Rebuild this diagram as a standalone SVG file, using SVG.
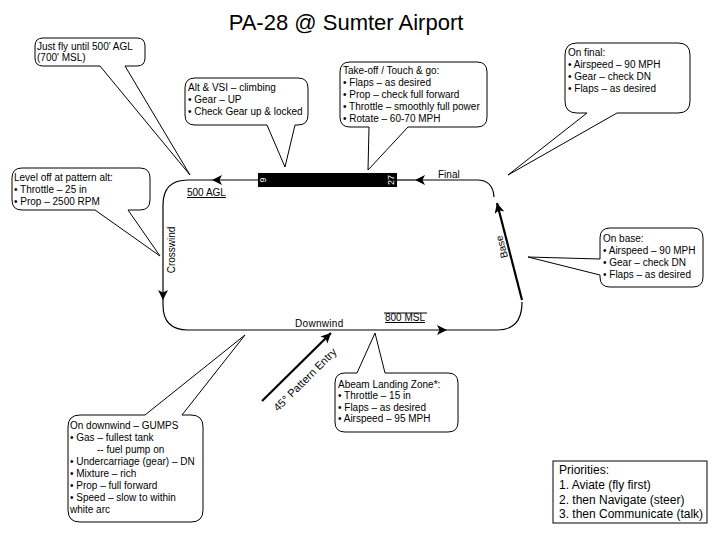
<svg xmlns="http://www.w3.org/2000/svg" width="720" height="540" viewBox="0 0 720 540">
<style>
text{font-family:"Liberation Sans",Arial,sans-serif;fill:#000}
.t{font-size:10px}
.c{fill:#fff;stroke:#000;stroke-width:1}
.ln{fill:none;stroke:#000;stroke-width:1.2}
.thick{fill:none;stroke:#000;stroke-width:2.2}
</style>
<defs>
<marker id="arr" markerUnits="userSpaceOnUse" markerWidth="12" markerHeight="12" refX="10" refY="5" orient="auto">
<path d="M0,0 L10,5 L0,10 L2.5,5 z" fill="#000"/>
</marker>
</defs>
<rect width="720" height="540" fill="#fff"/>
<text x="346" y="30" font-size="22" text-anchor="middle">PA-28 @ Sumter Airport</text>

<g id="connectors">
<path class="ln" d="M258,180 H212" marker-end="url(#arr)"/>
<path class="ln" d="M212,180 H188 Q163,180 163,205 V300" marker-end="url(#arr)"/>
<path class="ln" d="M163,300 V305 Q163,330 188,330 H447" marker-end="url(#arr)"/>
<path class="ln" d="M447,330 H497 Q522,330 522,302"/>
<path class="thick" d="M522,300 L497,203" marker-end="url(#arr)"/>
<path class="ln" d="M494,197 Q493,180 477,180 H415" marker-end="url(#arr)"/>
<path class="ln" d="M415,180 H397"/>
<path class="thick" d="M262,401 L331,333" marker-end="url(#arr)"/>
</g>

<g id="runway">
<rect x="258" y="173" width="139" height="14" fill="#000"/>
<text transform="translate(266,180) rotate(-90)" font-size="9" text-anchor="middle" style="fill:#fff">9</text>
<text transform="translate(394,180) rotate(-90)" font-size="9" text-anchor="middle" style="fill:#fff">27</text>
</g>

<g id="leg-labels">
<text class="t" x="438" y="178">Final</text>
<text class="t" x="187" y="196" text-decoration="underline">500 AGL</text>
<text class="t" transform="translate(175,250) rotate(-90)" text-anchor="middle">Crosswind</text>
<text class="t" transform="translate(505,246) rotate(-105)" text-anchor="middle">Base</text>
<text class="t" x="295" y="327" letter-spacing="0.3">Downwind</text>
<line x1="384" y1="313" x2="427" y2="313" stroke="#000" stroke-width="1"/>
<text class="t" x="385" y="321" text-decoration="underline">800 MSL</text>
<text transform="translate(278,412) rotate(-45)" font-size="11">45° Pattern Entry</text>
</g>

<g id="just-fly">
<path class="c" d="M43,38 H137 Q145,38 145,46 V58 Q145,66 137,66 H125 L190,175 L100,66 H43 Q35,66 35,58 V46 Q35,38 43,38 Z"/>
<text class="t" x="37" y="50">Just fly until 500' AGL</text>
<text class="t" x="37" y="61">(700' MSL)</text>
</g>

<g id="alt-vsi">
<path class="c" d="M195,78 H298 Q308,78 308,88 V115 Q308,125 298,125 H295 L285,167 L267,125 H195 Q185,125 185,115 V88 Q185,78 195,78 Z"/>
<text class="t" x="188" y="91">Alt &amp; VSI – climbing</text>
<text class="t" x="188" y="103">• Gear – UP</text>
<text class="t" x="188" y="115">• Check Gear up &amp; locked</text>
</g>

<g id="takeoff">
<path class="c" d="M350,62 H477 Q487,62 487,72 V117 Q487,127 477,127 H408 L368,170 L369,127 H350 Q340,127 340,117 V72 Q340,62 350,62 Z"/>
<text class="t" x="343" y="74">Take-off / Touch &amp; go:</text>
<text class="t" x="343" y="86">• Flaps – as desired</text>
<text class="t" x="343" y="98">• Prop – check full forward</text>
<text class="t" x="343" y="110">• Throttle – smoothly full power</text>
<text class="t" x="343" y="122">• Rotate – 60-70 MPH</text>
</g>

<g id="on-final">
<path class="c" d="M577,43 H678 Q690,43 690,55 V101 Q690,113 678,113 H617 L508,175 L587,113 H577 Q565,113 565,101 V55 Q565,43 577,43 Z"/>
<text class="t" x="568" y="56">On final:</text>
<text class="t" x="568" y="68">• Airspeed – 90 MPH</text>
<text class="t" x="568" y="80">• Gear – check DN</text>
<text class="t" x="568" y="92">• Flaps – as desired</text>
</g>

<g id="level-off">
<path class="c" d="M22,168 H140 Q150,168 150,178 V200 Q150,210 140,210 H128 L160,256 L95,210 H22 Q12,210 12,200 V178 Q12,168 22,168 Z"/>
<text class="t" x="14" y="181">Level off at pattern alt:</text>
<text class="t" x="14" y="193">•  Throttle – 25 in</text>
<text class="t" x="14" y="205">•  Prop – 2500 RPM</text>
</g>

<g id="on-base">
<path class="c" d="M610,228 H693 Q703,228 703,238 V277 Q703,287 693,287 H610 Q600,287 600,277 V275 L528,257 L600,259 V238 Q600,228 610,228 Z"/>
<text class="t" x="603" y="242">On base:</text>
<text class="t" x="603" y="254">• Airspeed – 90 MPH</text>
<text class="t" x="603" y="266">• Gear – check DN</text>
<text class="t" x="603" y="278">• Flaps – as desired</text>
</g>

<g id="abeam">
<path class="c" d="M345,373 H357 L375,333 L385,373 H448 Q458,373 458,383 V422 Q458,432 448,432 H345 Q335,432 335,422 V383 Q335,373 345,373 Z"/>
<text class="t" x="338" y="388">Abeam Landing Zone*:</text>
<text class="t" x="338" y="399">• Throttle – 15 in</text>
<text class="t" x="338" y="411">• Flaps – as desired</text>
<text class="t" x="338" y="422">• Airspeed – 95 MPH</text>
</g>

<g id="gumps">
<path class="c" d="M80,415 H145 L245,335 L182,415 H191 Q203,415 203,427 V510 Q203,522 191,522 H80 Q68,522 68,510 V427 Q68,415 80,415 Z"/>
<text class="t" x="70" y="429">On downwind – GUMPS</text>
<text class="t" x="70" y="441">• Gas – fullest tank</text>
<text class="t" x="97" y="453">-- fuel pump on</text>
<text class="t" x="70" y="465">• Undercarriage (gear) – DN</text>
<text class="t" x="70" y="477">• Mixture – rich</text>
<text class="t" x="70" y="489">• Prop – full forward</text>
<text class="t" x="70" y="501">• Speed – slow to within</text>
<text class="t" x="70" y="513">white arc</text>
</g>

<g id="priorities">
<rect x="553" y="461" width="154" height="62" fill="#fff" stroke="#000" stroke-width="1"/>
<text x="559" y="474" font-size="12">Priorities:</text>
<text x="559" y="489" font-size="12">1. Aviate (fly first)</text>
<text x="559" y="504" font-size="12">2. then Navigate (steer)</text>
<text x="559" y="518" font-size="12">3. then Communicate (talk)</text>
</g>
</svg>
